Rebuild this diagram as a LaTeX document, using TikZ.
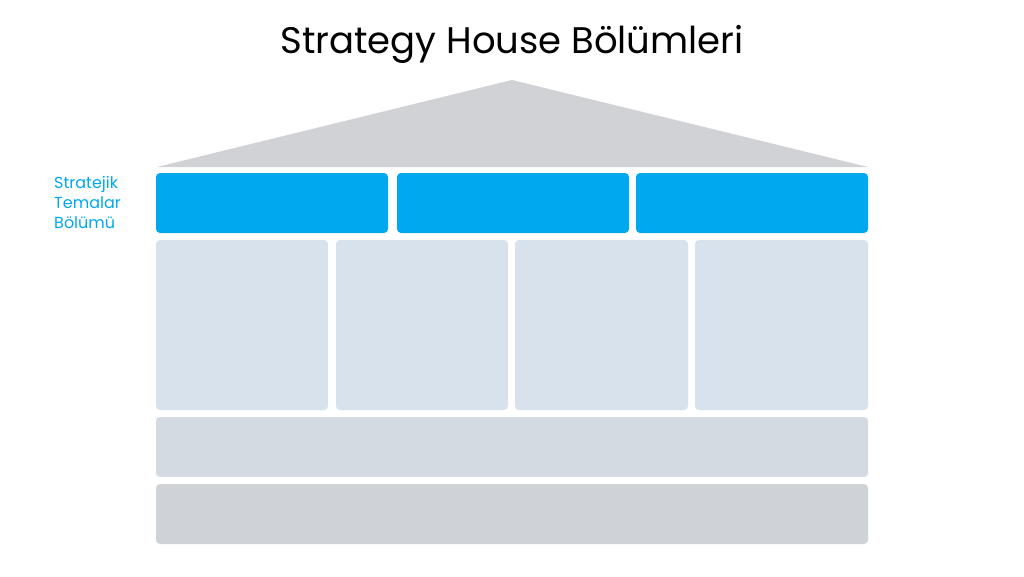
\documentclass[tikz,border=0pt]{standalone}
\usepackage{fontspec}
\setmainfont{Poppins}
\definecolor{roofc}{RGB}{208,210,213}
\definecolor{bluec}{RGB}{0,168,240}
\definecolor{pillarc}{RGB}{215,226,236}
\definecolor{bandA}{RGB}{211,218,225}
\definecolor{bandB}{RGB}{207,210,214}
\tikzset{
  box/.style={rounded corners=4pt, draw=none},
}
\begin{document}
\begin{tikzpicture}[x=1pt,y=-1pt]
\useasboundingbox[fill=white] (0,0) rectangle (1024,576);
\node[font=\fontsize{37}{40}\selectfont, text=black] (title) at (512,44) {Strategy House Bölümleri};
\fill[roofc] (512,80) coordinate (apex) -- (868,167) coordinate (rr) -- (157,167) coordinate (rl) -- cycle;
% blue row
\fill[box, fill=bluec] (156,173) rectangle (388,233);
\fill[box, fill=bluec] (397,173) rectangle (629,233);
\fill[box, fill=bluec] (636,173) rectangle (868,233);
% pillars
\fill[box, fill=pillarc] (156,240) rectangle (328,410);
\fill[box, fill=pillarc] (336,240) rectangle (508,410);
\fill[box, fill=pillarc] (515,240) rectangle (688,410);
\fill[box, fill=pillarc] (695,240) rectangle (868,410);
% bands
\fill[box, fill=bandA] (156,417) rectangle (868,477);
\fill[box, fill=bandB] (156,484) rectangle (868,544);
\node[anchor=north west, align=left, text=bluec, font=\fontsize{16}{20}\selectfont, inner sep=0pt] (lbl) at (54,176.5) {Stratejik\\Temalar\\Bölümü};
\end{tikzpicture}
\end{document}
